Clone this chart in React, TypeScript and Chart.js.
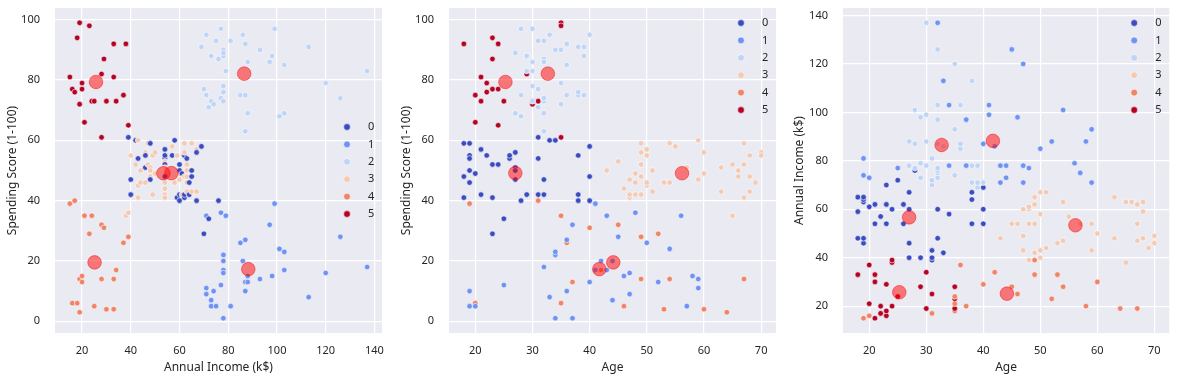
import React, { useEffect, useRef } from "react";
import { Chart, registerables } from "chart.js";

Chart.register(...registerables);

// ---- data (Mall customers, 200 rows) ----
const age = [
  19, 21, 20, 23, 31, 22, 35, 23, 64, 30, 67, 35, 58, 24, 37, 22, 35, 20, 52, 35,
  35, 25, 46, 31, 54, 29, 45, 35, 40, 23, 60, 21, 53, 18, 49, 21, 42, 30, 36, 20,
  65, 24, 48, 31, 49, 24, 50, 27, 29, 31, 49, 33, 31, 59, 50, 47, 51, 69, 27, 53,
  70, 19, 67, 54, 63, 18, 43, 68, 19, 32, 70, 47, 60, 60, 59, 26, 45, 40, 23, 49,
  57, 38, 67, 46, 21, 48, 55, 22, 34, 50, 68, 18, 48, 40, 32, 24, 47, 27, 48, 20,
  23, 49, 67, 26, 49, 21, 66, 54, 68, 66, 65, 19, 38, 19, 18, 19, 63, 49, 51, 50,
  27, 38, 40, 39, 23, 31, 43, 40, 59, 38, 47, 39, 25, 31, 20, 29, 44, 32, 19, 35,
  57, 32, 28, 32, 25, 28, 48, 32, 34, 34, 43, 39, 44, 38, 47, 27, 37, 30, 34, 30,
  56, 29, 19, 31, 50, 36, 42, 33, 36, 32, 40, 28, 36, 36, 52, 30, 58, 27, 59, 35,
  37, 32, 46, 29, 41, 30, 54, 28, 41, 36, 34, 32, 33, 38, 47, 35, 45, 32, 32, 30,
];
const income = [
  15, 15, 16, 16, 17, 17, 18, 18, 19, 19, 19, 19, 20, 20, 20, 20, 21, 21, 23, 23,
  24, 24, 25, 25, 28, 28, 28, 28, 29, 29, 30, 30, 33, 33, 33, 33, 34, 34, 37, 37,
  38, 38, 39, 39, 39, 39, 40, 40, 40, 40, 42, 42, 43, 43, 43, 43, 44, 44, 46, 46,
  46, 46, 47, 47, 48, 48, 48, 48, 48, 48, 49, 49, 50, 50, 54, 54, 54, 54, 54, 54,
  54, 54, 54, 54, 54, 54, 57, 57, 58, 58, 59, 59, 60, 60, 60, 60, 60, 60, 61, 61,
  62, 62, 62, 62, 62, 62, 63, 63, 63, 63, 63, 63, 64, 64, 65, 65, 65, 65, 67, 67,
  67, 67, 69, 69, 70, 70, 71, 71, 71, 71, 71, 71, 72, 72, 73, 73, 73, 73, 74, 74,
  75, 75, 76, 76, 77, 77, 77, 77, 78, 78, 78, 78, 78, 78, 78, 78, 78, 78, 78, 78,
  79, 79, 81, 81, 85, 85, 86, 86, 87, 87, 87, 87, 87, 87, 88, 88, 88, 88, 93, 93,
  97, 97, 98, 98, 99, 99, 101, 101, 103, 103, 103, 103, 113, 113, 120, 120, 126, 126, 137, 137,
];
const spending = [
  39, 81, 6, 77, 40, 76, 6, 94, 3, 72, 14, 99, 15, 77, 13, 79, 35, 66, 29, 98,
  35, 73, 5, 73, 14, 82, 32, 61, 31, 87, 4, 73, 4, 92, 14, 81, 17, 73, 26, 75,
  35, 92, 36, 61, 28, 65, 55, 47, 42, 42, 52, 60, 54, 60, 45, 41, 50, 46, 51, 46,
  56, 55, 52, 59, 51, 59, 50, 48, 59, 47, 55, 42, 49, 56, 47, 54, 53, 48, 52, 42,
  51, 55, 41, 44, 57, 46, 58, 55, 60, 46, 55, 41, 49, 40, 42, 52, 47, 50, 42, 49,
  41, 48, 59, 55, 56, 42, 50, 46, 43, 48, 52, 54, 42, 46, 48, 50, 43, 59, 43, 57,
  56, 40, 58, 91, 29, 77, 35, 95, 11, 75, 9, 75, 34, 71, 5, 88, 7, 73, 10, 72,
  5, 93, 40, 87, 12, 97, 36, 74, 22, 90, 17, 88, 20, 76, 16, 89, 1, 78, 1, 73,
  35, 83, 5, 93, 26, 75, 20, 95, 27, 63, 13, 75, 10, 92, 13, 86, 15, 69, 14, 90,
  32, 86, 15, 88, 39, 97, 24, 68, 17, 85, 23, 69, 8, 91, 16, 79, 28, 74, 18, 83,
];
const cluster = [
  4, 5, 4, 5, 4, 5, 4, 5, 4, 5, 4, 5, 4, 5, 4, 5, 4, 5, 4, 5,
  4, 5, 4, 5, 4, 5, 4, 5, 4, 5, 4, 5, 4, 5, 4, 5, 4, 5, 4, 5,
  3, 5, 3, 0, 4, 5, 3, 0, 0, 0, 3, 0, 0, 3, 3, 3, 3, 3, 0, 3,
  3, 0, 3, 3, 3, 0, 3, 3, 0, 0, 3, 3, 3, 3, 3, 0, 3, 0, 0, 3,
  3, 0, 3, 3, 0, 3, 3, 0, 0, 3, 3, 0, 3, 0, 0, 0, 3, 0, 3, 0,
  0, 3, 3, 0, 3, 0, 3, 3, 3, 3, 3, 0, 0, 0, 0, 0, 3, 3, 3, 3,
  0, 0, 0, 2, 0, 2, 1, 2, 1, 2, 1, 2, 0, 2, 1, 2, 1, 2, 1, 2,
  1, 2, 0, 2, 1, 2, 1, 2, 1, 2, 1, 2, 1, 2, 1, 2, 1, 2, 1, 2,
  1, 2, 1, 2, 1, 2, 1, 2, 1, 2, 1, 2, 1, 2, 1, 2, 1, 2, 1, 2,
  1, 2, 1, 2, 1, 2, 1, 2, 1, 2, 1, 2, 1, 2, 1, 2, 1, 2, 1, 2,
];
const clusterNames = ["0", "1", "2", "3", "4", "5"];
const centroidAge = [27.0, 41.69, 32.69, 56.16, 44.14, 25.27];
const centroidIncome = [56.66, 88.23, 86.54, 53.38, 25.14, 25.73];
const centroidSpending = [49.13, 17.29, 82.13, 49.09, 19.52, 79.36];

const incomeTicks = [20, 40, 60, 80, 100, 120, 140];
const spendingTicks = [0, 20, 40, 60, 80, 100];
const ageTicks = [20, 30, 40, 50, 60, 70];

// ---- styles ----
const palette = ["#3b4cc0", "#7093f3", "#c0d4f5", "#f2cbb7", "#ee8468", "#b40426"];
const FONT = "'Noto Sans', 'DejaVu Sans', sans-serif";
const TEXT = "#262626";
const BG = "#eaeaf2";

type PanelSpec = {
  left: number;
  width: number;
  axisW: number;
  padRight: number;
  xs: number[];
  ys: number[];
  cx: number[];
  cy: number[];
  xTitle: string;
  yTitle: string;
  xMin: number;
  xMax: number;
  yMin: number;
  yMax: number;
  xTicks: number[];
  yTicks: number[];
  legendTop: number;
};

const panels: PanelSpec[] = [
  {
    left: 0, width: 390, axisW: 55, padRight: 8,
    xs: income, ys: spending, cx: centroidIncome, cy: centroidSpending,
    xTitle: "Annual Income (k$)", yTitle: "Spending Score (1-100)",
    xMin: 8.9, xMax: 143.1, yMin: -3.9, yMax: 103.9,
    xTicks: incomeTicks, yTicks: spendingTicks, legendTop: 127,
  },
  {
    left: 394, width: 390, axisW: 55, padRight: 8,
    xs: age, ys: spending, cx: centroidAge, cy: centroidSpending,
    xTitle: "Age", yTitle: "Spending Score (1-100)",
    xMin: 15.4, xMax: 72.6, yMin: -3.9, yMax: 103.9,
    xTicks: ageTicks, yTicks: spendingTicks, legendTop: 23,
  },
  {
    left: 787, width: 390, axisW: 56, padRight: 7,
    xs: age, ys: income, cx: centroidAge, cy: centroidIncome,
    xTitle: "Age", yTitle: "Annual Income (k$)",
    xMin: 15.4, xMax: 72.6, yMin: 8.9, yMax: 143.1,
    xTicks: ageTicks, yTicks: incomeTicks, legendTop: 23,
  },
];

const bgPlugin = {
  id: "axesBg",
  beforeDraw(chart: any) {
    const { ctx, chartArea } = chart;
    ctx.save();
    ctx.fillStyle = BG;
    ctx.fillRect(chartArea.left, chartArea.top, chartArea.right - chartArea.left, chartArea.bottom - chartArea.top);
    ctx.restore();
  },
};

function makeLegendPlugin(top: number) {
  return {
    id: "clusterLegend",
    afterDraw(chart: any) {
      const { ctx, chartArea } = chart;
      ctx.save();
      ctx.font = `11px ${FONT}`;
      ctx.textBaseline = "middle";
      ctx.textAlign = "left";
      clusterNames.forEach((name, i) => {
        const y = top + i * 17.4;
        const mx = chartArea.right - 35;
        ctx.beginPath();
        ctx.arc(mx, y, 3.4, 0, Math.PI * 2);
        ctx.fillStyle = palette[i];
        ctx.fill();
        ctx.lineWidth = 0.6;
        ctx.strokeStyle = "#ffffff";
        ctx.stroke();
        ctx.fillStyle = TEXT;
        ctx.fillText(name, chartArea.right - 14, y);
      });
      ctx.restore();
    },
  };
}

function Panel({ spec }: { spec: PanelSpec }) {
  const ref = useRef<HTMLCanvasElement>(null);
  useEffect(() => {
    const canvas = ref.current!;
    const chart = new Chart(canvas, {
      type: "scatter",
      data: {
        datasets: [
          {
            label: "centroids",
            data: spec.cx.map((v, i) => ({ x: v, y: spec.cy[i] })),
            backgroundColor: "rgba(255,0,0,0.5)",
            borderColor: "rgba(255,0,0,0.45)",
            borderWidth: 1,
            pointRadius: 6.8,
            order: 0,
          },
          {
            label: "customers",
            data: spec.xs.map((v, i) => ({ x: v, y: spec.ys[i] })),
            backgroundColor: (c: any) => palette[cluster[c.dataIndex]],
            borderColor: "#ffffff",
            borderWidth: 0.6,
            pointRadius: 2.8,
            order: 1,
          },
        ],
      },
      options: {
        animation: false,
        responsive: false,
        devicePixelRatio: 1,
        events: [],
        layout: { padding: { left: 0, right: spec.padRight, top: 8, bottom: 0 } },
        plugins: { legend: { display: false }, tooltip: { enabled: false } },
        scales: {
          x: {
            type: "linear",
            min: spec.xMin,
            max: spec.xMax,
            afterBuildTicks: (s: any) => {
              s.ticks = spec.xTicks.map((v) => ({ value: v }));
            },
            afterFit: (s: any) => {
              s.height = 48;
              s.paddingLeft = 0;
              s.paddingRight = 0;
            },
            grid: { color: "#ffffff", lineWidth: 1.2, drawTicks: false },
            border: { display: false },
            ticks: { padding: 11, color: TEXT, font: { family: FONT, size: 11 }, callback: (v: any) => String(v) },
            title: { display: true, text: spec.xTitle, color: TEXT, font: { family: FONT, size: 12 }, padding: { top: 0, bottom: 6 } },
          },
          y: {
            type: "linear",
            min: spec.yMin,
            max: spec.yMax,
            afterBuildTicks: (s: any) => {
              s.ticks = spec.yTicks.map((v) => ({ value: v }));
            },
            afterFit: (s: any) => {
              s.width = spec.axisW;
              s.paddingTop = 0;
              s.paddingBottom = 0;
            },
            grid: { color: "#ffffff", lineWidth: 1.2, drawTicks: false },
            border: { display: false },
            ticks: { padding: 15, color: TEXT, font: { family: FONT, size: 11 }, callback: (v: any) => String(v) },
            title: { display: true, text: spec.yTitle, color: TEXT, font: { family: FONT, size: 12 }, padding: { top: 5, bottom: 0 } },
          },
        },
      },
      plugins: [bgPlugin, makeLegendPlugin(spec.legendTop)],
    } as any);
    return () => chart.destroy();
  }, [spec]);
  return (
    <canvas
      ref={ref}
      width={spec.width}
      height={381}
      style={{ position: "absolute", left: spec.left, top: 0, width: spec.width, height: 381 }}
    />
  );
}

export default function App() {
  return (
    <div style={{ position: "fixed", left: 0, top: 0, width: 1177, height: 381, background: "#ffffff", overflow: "hidden" }}>
      {panels.map((p, i) => (
        <Panel key={i} spec={p} />
      ))}
    </div>
  );
}
